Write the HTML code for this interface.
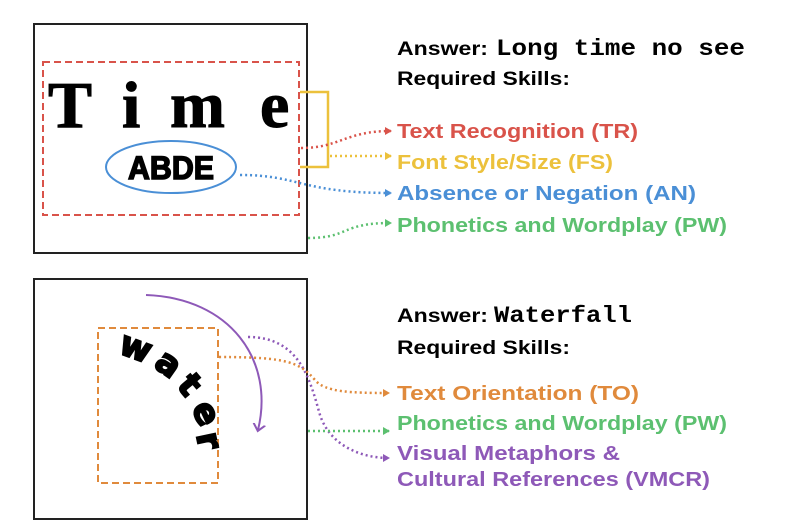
<!DOCTYPE html>
<html><head><meta charset="utf-8"><style>
html,body{margin:0;padding:0;background:#fff;width:800px;height:527px;overflow:hidden}
svg{display:block}
text{font-family:"Liberation Sans",Arial,sans-serif;font-weight:bold}
text.s{font-family:"Liberation Serif",serif}
text.d{font-family:"DejaVu Sans","Liberation Sans",sans-serif}
</style></head><body>
<svg width="800" height="527" viewBox="0 0 800 527" xmlns="http://www.w3.org/2000/svg">
<defs>
<marker id="r" markerWidth="8" markerHeight="8" refX="6" refY="4" orient="auto" markerUnits="userSpaceOnUse"><path d="M0,0 L7,4 L0,8 z" fill="#d9534a"/></marker>
<marker id="y" markerWidth="8" markerHeight="8" refX="6" refY="4" orient="auto" markerUnits="userSpaceOnUse"><path d="M0,0 L7,4 L0,8 z" fill="#ecc13c"/></marker>
<marker id="b" markerWidth="8" markerHeight="8" refX="6" refY="4" orient="auto" markerUnits="userSpaceOnUse"><path d="M0,0 L7,4 L0,8 z" fill="#4a8fd6"/></marker>
<marker id="g" markerWidth="8" markerHeight="8" refX="6" refY="4" orient="auto" markerUnits="userSpaceOnUse"><path d="M0,0 L7,4 L0,8 z" fill="#5cc070"/></marker>
<marker id="o" markerWidth="8" markerHeight="8" refX="6" refY="4" orient="auto" markerUnits="userSpaceOnUse"><path d="M0,0 L7,4 L0,8 z" fill="#e08a3c"/></marker>
<marker id="p" markerWidth="8" markerHeight="8" refX="6" refY="4" orient="auto" markerUnits="userSpaceOnUse"><path d="M0,0 L7,4 L0,8 z" fill="#8e59b8"/></marker>
<marker id="pa" markerWidth="14" markerHeight="14" refX="6" refY="7" orient="auto" markerUnits="userSpaceOnUse"><path d="M0,1 L7,7 L0,13" fill="none" stroke="#8e59b8" stroke-width="2"/></marker>
</defs>

<rect x="34" y="24" width="273" height="229" fill="none" stroke="#222" stroke-width="2"/>
<rect x="43" y="62" width="256" height="153" fill="none" stroke="#d9534a" stroke-width="2" stroke-dasharray="7,4"/>
<g font-size="66" stroke="#000" stroke-width="1">
<text class="s" x="48" y="127">T</text>
<text class="s" x="122" y="127">i</text>
<text class="s" x="170" y="127">m</text>
<text class="s" x="260" y="127">e</text>
</g>
<ellipse cx="171" cy="167" rx="65" ry="26" fill="none" stroke="#4a8fd6" stroke-width="2"/>
<text x="171" y="179" font-size="32" text-anchor="middle" textLength="86" lengthAdjust="spacingAndGlyphs" stroke="#000" stroke-width="1.5">ABDE</text>
<path d="M300,92 H328 V167 H300" fill="none" stroke="#ecc13c" stroke-width="2.5"/>
<path d="M301,148 C340,148 345,131 391,131" fill="none" stroke="#d9534a" stroke-width="2.5" stroke-dasharray="2,3" marker-end="url(#r)"/>
<path d="M330,156 H391" fill="none" stroke="#ecc13c" stroke-width="2.5" stroke-dasharray="2,3" marker-end="url(#y)"/>
<path d="M240,175 C300,175 300,193 391,193" fill="none" stroke="#4a8fd6" stroke-width="2.5" stroke-dasharray="2,3" marker-end="url(#b)"/>
<path d="M308,238 C350,238 340,223 391,223" fill="none" stroke="#5cc070" stroke-width="2.5" stroke-dasharray="2,3" marker-end="url(#g)"/>

<text x="397" y="55" font-size="19" textLength="91" lengthAdjust="spacingAndGlyphs">Answer:</text>
<text x="496" y="55" font-size="23" style="font-family:'Liberation Mono',monospace" textLength="249" lengthAdjust="spacingAndGlyphs">Long time no see</text>
<text x="397" y="85" font-size="19" textLength="173" lengthAdjust="spacingAndGlyphs">Required Skills:</text>
<text x="397" y="138" font-size="20" fill="#d9534a" textLength="241" lengthAdjust="spacingAndGlyphs">Text Recognition (TR)</text>
<text x="397" y="169" font-size="20" fill="#ecc13c" textLength="216" lengthAdjust="spacingAndGlyphs">Font Style/Size (FS)</text>
<text x="397" y="200" font-size="20" fill="#4a8fd6" textLength="299" lengthAdjust="spacingAndGlyphs">Absence or Negation (AN)</text>
<text x="397" y="232" font-size="20" fill="#5cc070" textLength="330" lengthAdjust="spacingAndGlyphs">Phonetics and Wordplay (PW)</text>

<rect x="34" y="279" width="273" height="240" fill="none" stroke="#222" stroke-width="2"/>
<rect x="98" y="328" width="120" height="155" fill="none" stroke="#e08a3c" stroke-width="2" stroke-dasharray="7,4"/>
<g font-size="34" stroke="#000" stroke-width="2">
<text class="d" transform="translate(132,358) rotate(20)" text-anchor="middle">w</text>
<text class="d" transform="translate(162,373) rotate(35)" text-anchor="middle">a</text>
<text class="d" transform="translate(181,392) rotate(50)" text-anchor="middle">t</text>
<text class="d" transform="translate(196,418) rotate(65)" text-anchor="middle">e</text>
<text class="d" transform="translate(198,443) rotate(78)" text-anchor="middle">r</text>
</g>
<path d="M146,295 C230,298 275,360 258,430" fill="none" stroke="#8e59b8" stroke-width="2" marker-end="url(#pa)"/>
<path d="M248,337 C300,337 310,380 320,415 C330,445 360,458 389,458" fill="none" stroke="#8e59b8" stroke-width="2.5" stroke-dasharray="2,3" marker-end="url(#p)"/>
<path d="M219,357 C290,357 300,363 315,380 C325,392 350,393 389,393" fill="none" stroke="#e08a3c" stroke-width="2.5" stroke-dasharray="2,3" marker-end="url(#o)"/>
<path d="M308,431 H389" fill="none" stroke="#5cc070" stroke-width="2.5" stroke-dasharray="2,3" marker-end="url(#g)"/>

<text x="397" y="322" font-size="19" textLength="91" lengthAdjust="spacingAndGlyphs">Answer:</text>
<text x="494" y="322" font-size="23" style="font-family:'Liberation Mono',monospace" textLength="138" lengthAdjust="spacingAndGlyphs">Waterfall</text>
<text x="397" y="354" font-size="19" textLength="173" lengthAdjust="spacingAndGlyphs">Required Skills:</text>
<text x="397" y="400" font-size="20" fill="#e08a3c" textLength="242" lengthAdjust="spacingAndGlyphs">Text Orientation (TO)</text>
<text x="397" y="430" font-size="20" fill="#5cc070" textLength="330" lengthAdjust="spacingAndGlyphs">Phonetics and Wordplay (PW)</text>
<text x="397" y="460" font-size="20" fill="#8e59b8" textLength="223" lengthAdjust="spacingAndGlyphs">Visual Metaphors &amp;</text>
<text x="397" y="486" font-size="20" fill="#8e59b8" textLength="313" lengthAdjust="spacingAndGlyphs">Cultural References (VMCR)</text>
</svg>
</body></html>
